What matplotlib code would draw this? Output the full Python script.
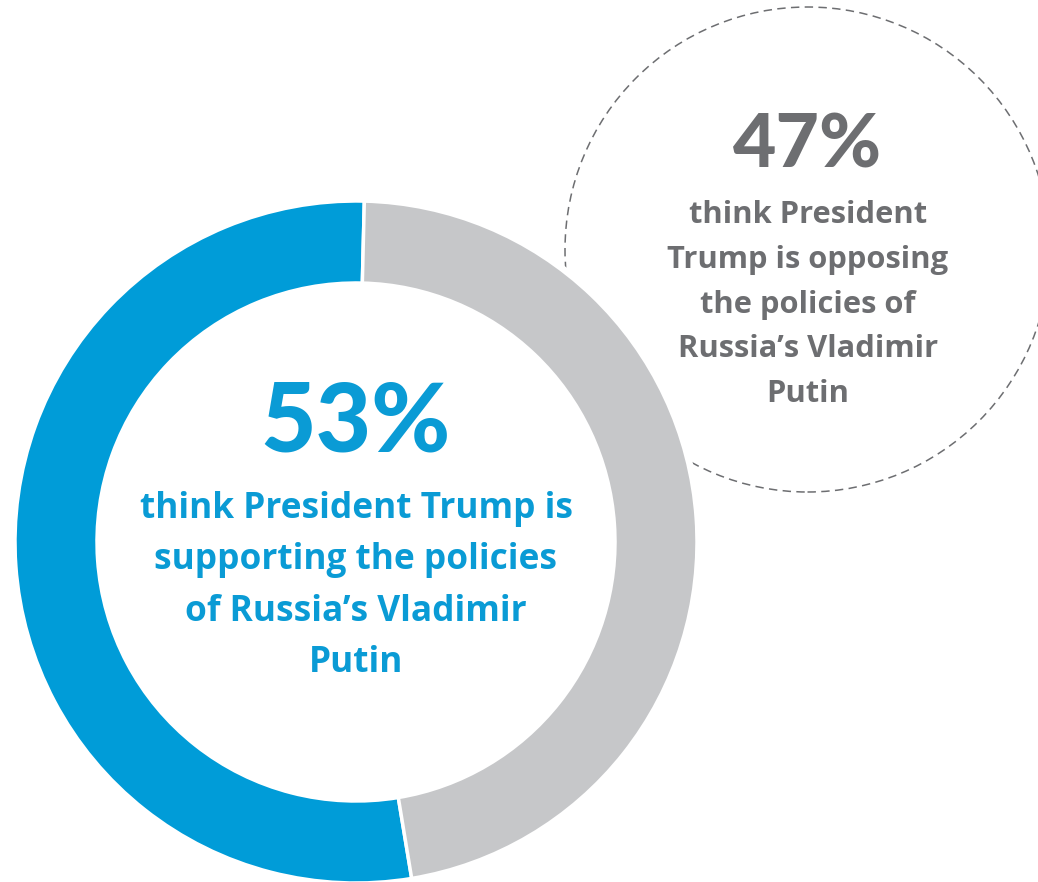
import matplotlib.pyplot as plt
from matplotlib.patches import Circle

plt.rcParams['font.family'] = ['Lato', 'DejaVu Sans']

# data
labels = ['supporting', 'opposing']
shares = [53, 47]
colors = ['#009CD8', '#C6C7C9']

big_blue = '53%'
text_blue = ['think President Trump is', 'supporting the policies',
             'of Russia\u2019s Vladimir', 'Putin']
big_gray = '47%'
text_gray = ['think President', 'Trump is opposing', 'the policies of',
             'Russia\u2019s Vladimir', 'Putin']

W, H = 1038, 882
fig = plt.figure(figsize=(W / 100, H / 100), dpi=100)
ax = fig.add_axes([0, 0, 1, 1])
ax.set_xlim(0, W)
ax.set_ylim(0, H)
ax.set_aspect('equal')
ax.axis('off')

blue_text = '#0A9BD5'
gray_text = '#6D6E71'
body_font = ['Open Sans', 'DejaVu Sans']

# dashed bubble behind the donut
bubble = Circle((807.5, 632.5), 242.5, fill=False, edgecolor='#6D6E71',
                linewidth=1.1, linestyle=(0, (5.5, 3.5)), zorder=1)
ax.add_patch(bubble)
ax.add_patch(Circle((356, 340), 346, facecolor='white', edgecolor='none', zorder=2))

wedges, _ = ax.pie(shares, colors=colors, startangle=88.6, counterclock=True,
                   center=(356, 340), radius=341,
                   wedgeprops=dict(width=82, edgecolor='white', linewidth=2.5))
for w in wedges:
    w.set_zorder(3)
ax.set_xlim(0, W)
ax.set_ylim(0, H)

ax.text(356, 430, big_blue, ha='center', va='baseline', fontsize=69,
        fontweight='black', color=blue_text, zorder=4)
for i, line in enumerate(text_blue):
    ax.text(356, 364 - i * 51.5, line, ha='center', va='baseline', fontsize=25.4,
            fontweight='bold', family=body_font, color=blue_text, zorder=4)

ax.text(808, 715, big_gray, ha='center', va='baseline', fontsize=54,
        fontweight='black', color=gray_text, zorder=4)
for i, line in enumerate(text_gray):
    ax.text(808, 659 - i * 44.8, line, ha='center', va='baseline', fontsize=22.2,
            fontweight='bold', family=body_font, color=gray_text, zorder=4)

fig.savefig('out.png', dpi=100)
